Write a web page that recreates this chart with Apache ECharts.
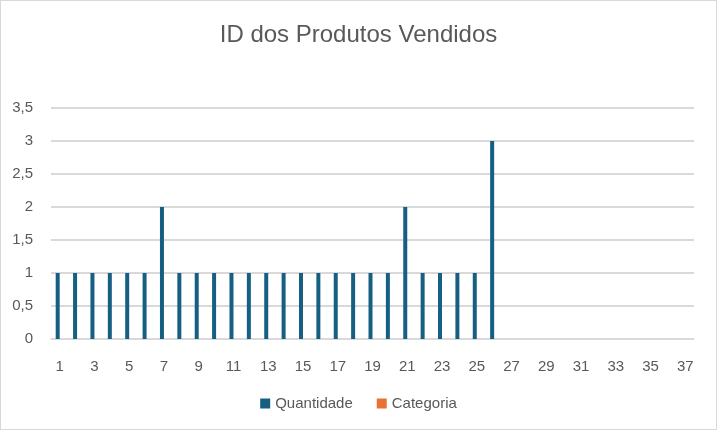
<!DOCTYPE html>
<html lang="pt">
<head>
<meta charset="UTF-8">
<title>ID dos Produtos Vendidos</title>
<script src="https://cdn.jsdelivr.net/npm/echarts@6/dist/echarts.min.js"></script>
<style>
    html, body { margin: 0; padding: 0; background: #fff; }
    #chart { width: 715px; height: 428px; border: 1px solid #d9d9d9; }
</style>
</head>
<body>
<div id="chart"></div>
<script>
    // product ids 1..37
    var ids = [];
    for (var i = 1; i <= 37; i++) ids.push(String(i));

    // quantity sold per id (ids 27..37 have no data)
    var quantidade = [1, 1, 1, 1, 1, 1, 2, 1, 1, 1, 1, 1, 1, 1, 1, 1, 1, 1, 1, 1, 2, 1, 1, 1, 1, 3];
    var categoria = [];

    var yTicks = [0, 0.5, 1, 1.5, 2, 2.5, 3, 3.5];

    var mychart = echarts.init(document.getElementById('chart'));
    var option = {
        animation: false,
        textStyle: { fontFamily: 'Liberation Sans, Arial, sans-serif' },
        title: {
            text: 'ID dos Produtos Vendidos',
            left: 'center',
            top: 17,
            textStyle: { fontSize: 24, fontWeight: 'normal', color: '#595959' }
        },
        legend: {
            bottom: 13,
            icon: 'rect',
            itemWidth: 10,
            itemHeight: 10,
            itemGap: 24,
            textStyle: { fontSize: 15, color: '#595959' },
            data: ['Quantidade', 'Categoria']
        },
        grid: { left: 50, right: 22, top: 107, bottom: 90, containLabel: false },
        xAxis: {
            type: 'category',
            data: ids,
            axisTick: { show: false },
            axisLine: { lineStyle: { color: '#d9d9d9', width: 1 } },
            axisLabel: { interval: 1, fontSize: 15, color: '#595959', margin: 20 }
        },
        yAxis: {
            type: 'value',
            min: yTicks[0],
            max: yTicks[yTicks.length - 1],
            interval: 0.5,
            axisLine: { show: false },
            axisTick: { show: false },
            splitLine: { lineStyle: { color: '#d9d9d9', width: 2 } },
            axisLabel: {
                fontSize: 15,
                color: '#595959',
                margin: 18,
                formatter: function (v) { return String(v).replace('.', ','); }
            }
        },
        series: [
            {
                name: 'Quantidade',
                type: 'bar',
                data: quantidade,
                barWidth: 4,
                barGap: '0%',
                itemStyle: { color: '#156082' }
            },
            {
                name: 'Categoria',
                type: 'bar',
                data: categoria,
                barWidth: 4,
                itemStyle: { color: '#E97132' }
            }
        ]
    };
    mychart.setOption(option);
</script>
</body>
</html>
